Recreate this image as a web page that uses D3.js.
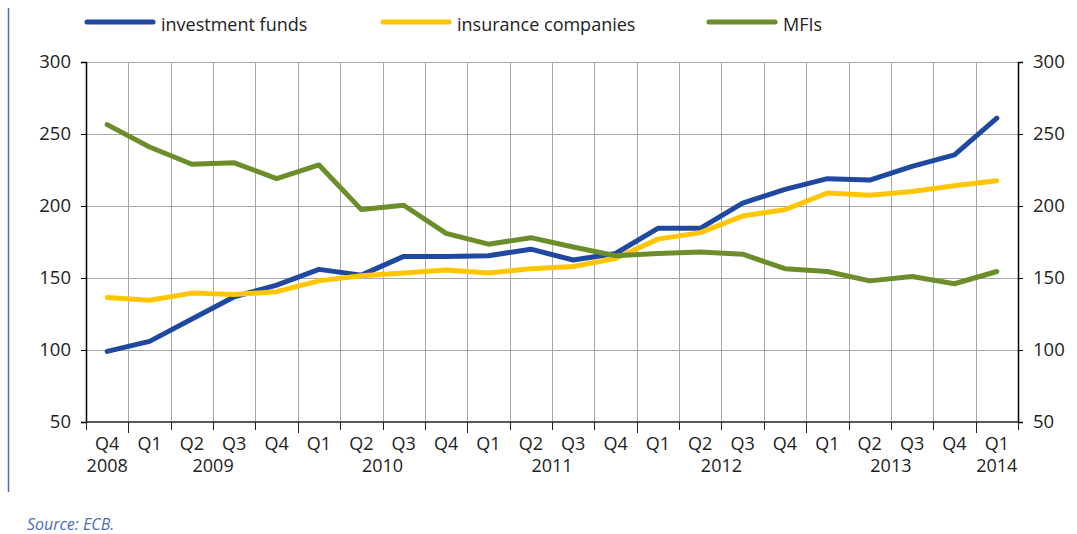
<!DOCTYPE html>
<html>
<head>
<meta charset="utf-8">
<script src="https://cdn.jsdelivr.net/npm/d3@7"></script>
<style>
  body { margin: 0; background: #fff; }
  svg { display: block; font-family: "Open Sans", sans-serif; }
</style>
</head>
<body>
<svg width="1077" height="534"></svg>
<script>
// quarters, Q4 2008 .. Q1 2014
var quarters = ["Q4","Q1","Q2","Q3","Q4","Q1","Q2","Q3","Q4","Q1","Q2","Q3","Q4",
                "Q1","Q2","Q3","Q4","Q1","Q2","Q3","Q4","Q1"];
var years = [{label: "2008", from: 0, to: 0}, {label: "2009", from: 1, to: 4},
             {label: "2010", from: 5, to: 8}, {label: "2011", from: 9, to: 12},
             {label: "2012", from: 13, to: 16}, {label: "2013", from: 17, to: 20},
             {label: "2014", from: 21, to: 21}];
var yTicks = [50, 100, 150, 200, 250, 300];

var investmentFunds = [99, 106, 121.5, 137, 145, 156, 152, 165, 165, 165.5, 170, 162.5, 167,
                       184.5, 184.5, 202, 211.5, 219, 218, 227.5, 235.5, 261];
var insuranceCompanies = [136.5, 134.5, 139.5, 138.5, 140.5, 148, 151.5, 153.5, 155.5, 153.5, 156.5, 158, 163.5,
                          177, 181.5, 193, 197.5, 209, 207.5, 210, 214, 217.5];
var mfis = [256.5, 241, 229, 230, 219, 228.5, 197.5, 200.5, 181, 173.5, 178, 171.5, 165.5,
            167, 168, 166.5, 156.5, 154.5, 148, 151, 146, 154.5];

var series = [
  {name: "investment funds", values: investmentFunds, color: "#1f49a0", lx: 85},
  {name: "insurance companies", values: insuranceCompanies, color: "#ffc600", lx: 381},
  {name: "MFIs", values: mfis, color: "#6b8e2b", lx: 707}
];

var svg = d3.select("svg"),
    margin = {top: 62, right: 59, bottom: 112, left: 86},
    width = +svg.attr("width") - margin.left - margin.right,
    height = +svg.attr("height") - margin.top - margin.bottom,
    g = svg.append("g").attr("transform", "translate(" + margin.left + "," + margin.top + ")");

var x = d3.scaleBand().domain(d3.range(quarters.length)).range([0, width]).paddingInner(0).paddingOuter(0),
    y = d3.scaleLinear().domain([50, 300]).range([height, 0]);
var step = x.bandwidth();

// frame line at the left
svg.append("line")
    .attr("x1", 8.5).attr("x2", 8.5).attr("y1", 8).attr("y2", 492)
    .attr("stroke", "#4a6db3").attr("stroke-width", 1.5);

// grid
g.selectAll(".hgrid")
    .data(yTicks.filter(d => d > 50))
    .join("line")
    .attr("x1", 0).attr("x2", width)
    .attr("y1", d => Math.round(y(d)) + 0.5).attr("y2", d => Math.round(y(d)) + 0.5)
    .attr("stroke", "#a8a8a8");

g.selectAll(".vgrid")
    .data(d3.range(1, quarters.length))
    .join("line")
    .attr("x1", d => Math.round(d * step) + 0.5).attr("x2", d => Math.round(d * step) + 0.5)
    .attr("y1", 0).attr("y2", height)
    .attr("stroke", "#a8a8a8");

// y axes
var yl = g.append("g").call(d3.axisLeft(y).tickValues(yTicks).tickSize(5).tickPadding(10));
var yr = g.append("g").attr("transform", "translate(" + width + ",0)")
    .call(d3.axisRight(y).tickValues(yTicks).tickSize(5).tickPadding(10));
[yl, yr].forEach(function(a) {
  a.select(".domain").attr("stroke", "#000").attr("stroke-width", 1.5);
  a.selectAll(".tick line").attr("stroke", "#000");
  a.selectAll("text").style("font-size", "18.5px").attr("fill", "#222").attr("font-family", "Open Sans");
});

// x axis
g.append("line")
    .attr("x1", 0).attr("x2", width)
    .attr("y1", height).attr("y2", height)
    .attr("stroke", "#222").attr("stroke-width", 1.5);

g.selectAll(".xtick")
    .data(d3.range(0, quarters.length + 1))
    .join("line")
    .attr("x1", d => Math.round(d * step) + 0.5).attr("x2", d => Math.round(d * step) + 0.5)
    .attr("y1", height)
    .attr("y2", d => height + ((d > 0 && d < quarters.length && quarters[d] === "Q1") ? 11 : 8))
    .attr("stroke", "#222");

g.selectAll(".qlabel")
    .data(quarters)
    .join("text")
    .attr("x", (d, i) => x(i) + step / 2)
    .attr("y", height + 28)
    .attr("text-anchor", "middle")
    .style("font-size", "18px")
    .attr("fill", "#222")
    .text(d => d);

g.selectAll(".ylabel")
    .data(years)
    .join("text")
    .attr("x", d => (x(d.from) + x(d.to) + step) / 2)
    .attr("y", height + 50)
    .attr("text-anchor", "middle")
    .style("font-size", "18px")
    .attr("fill", "#222")
    .text(d => d.label);

// lines
var line = d3.line()
    .x((d, i) => x(i) + step / 2)
    .y(d => y(d));

g.selectAll(".series")
    .data(series)
    .join("path")
    .attr("d", d => line(d.values))
    .attr("fill", "none")
    .attr("stroke", d => d.color)
    .attr("stroke-width", 5)
    .attr("stroke-linejoin", "round")
    .attr("stroke-linecap", "round");

// legend
var legend = svg.selectAll(".legend")
    .data(series)
    .join("g")
    .attr("transform", d => "translate(" + d.lx + ",22)");

legend.append("line")
    .attr("x1", 2).attr("x2", 68)
    .attr("stroke", d => d.color)
    .attr("stroke-width", 5)
    .attr("stroke-linecap", "round");

legend.append("text")
    .attr("x", 76)
    .attr("y", 9)
    .style("font-size", "18px")
    .attr("fill", "#222")
    .text(d => d.name);

// source
svg.append("text")
    .attr("x", 27)
    .attr("y", 530)
    .style("font-size", "16px")
    .style("font-style", "italic")
    .attr("fill", "#4a6db3")
    .text("Source: ECB.");
</script>
</body>
</html>
